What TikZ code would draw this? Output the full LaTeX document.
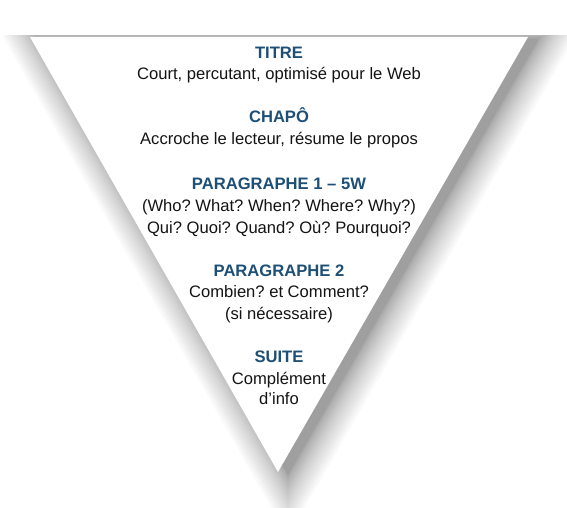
\documentclass[tikz,border=0pt]{standalone}
\usepackage{fontspec}
\setmainfont{Liberation Sans}
\frenchspacing
\definecolor{headblue}{RGB}{30,79,118}
\definecolor{bodytext}{RGB}{20,20,20}
\tikzset{
  txt/.style={anchor=base, inner sep=0pt, font=\fontsize{16.6}{20}\selectfont},
  head/.style={txt, font=\fontsize{16.6}{20}\selectfont\bfseries, text=headblue},
  body/.style={txt, text=bodytext},
  shadowlayer/.style={fill=black, opacity=0.025}
}
\begin{document}
\begin{tikzpicture}[x=1pt,y=-1pt]
\path[use as bounding box] (0,0) rectangle (567,508);
% blurred shadow
\begin{scope}
  \clip (0,36) rectangle (567,508);
  \foreach \k in {1,...,20}{
    \pgfmathsetmacro{\sc}{1+31*((\k/20)^1.7)/144.4}
    \begin{scope}[shift={(288.5,183.4)}, scale=\sc]
      \fill[shadowlayer] (-248.5,-144.4) -- (249.5,-144.4) -- (-0.5,290.6) -- cycle;
    \end{scope}
  }
\end{scope}
% triangle
\coordinate (tl) at (30,37);
\coordinate (tr) at (528,37);
\coordinate (tip) at (278,472);
\fill[white] (tl) -- (tr) -- (tip) -- cycle;
% texts
\node[head] (titre) at (279,58.3) {TITRE};
\node[body] (titreb) at (279,80) {Court, percutant, optimisé pour le Web};
\node[head] (chapo) at (279,123) {CHAPÔ};
\node[body] (chapob) at (279,144.3) {Accroche le lecteur, résume le propos};
\node[head] (para1) at (279,189) {PARAGRAPHE 1 – 5W};
\node[body] (para1b) at (279,211) {(Who? What? When? Where? Why?)};
\node[body] (para1c) at (279,233) {Qui? Quoi? Quand? Où? Pourquoi?};
\node[head] (para2) at (279,276) {PARAGRAPHE 2};
\node[body] (para2b) at (279,297.5) {Combien? et Comment?};
\node[body] (para2c) at (279,319) {(si nécessaire)};
\node[head] (suite) at (279,362.3) {SUITE};
\node[body] (suiteb) at (279,384) {Complément};
\node[body] (suitec) at (279,404.5) {d’info};
\end{tikzpicture}
\end{document}
